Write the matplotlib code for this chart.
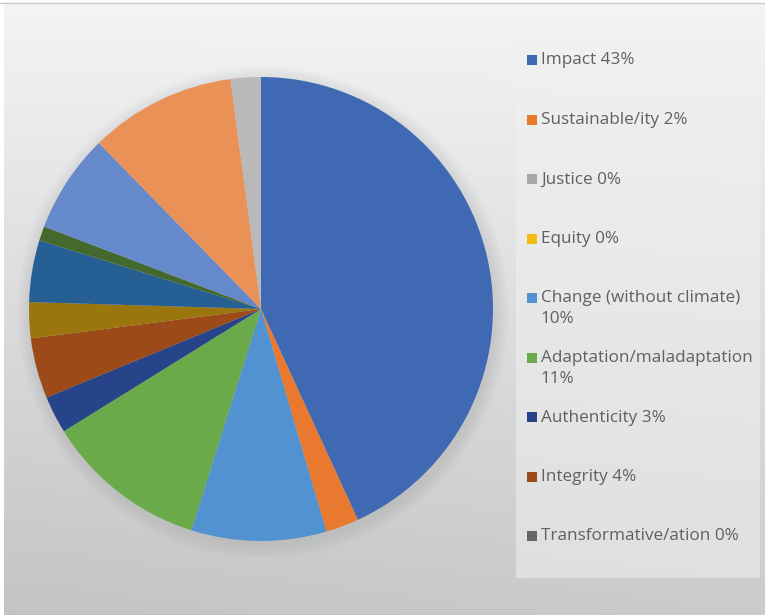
"""
Pie chart of keyword shares, Excel-style, with a side legend.
"""
import textwrap

import matplotlib
matplotlib.use("Agg")
import matplotlib.pyplot as plt
import numpy as np
from matplotlib.patches import Rectangle, Circle

# ---- data -----------------------------------------------------------------
labels = [
    "Impact", "Sustainable/ity", "Justice", "Equity", "Change (without climate)",
    "Adaptation/maladaptation", "Authenticity", "Integrity", "Transformative/ation",
    "Other 10", "Other 11", "Other 12", "Other 13", "Other 14", "Other 15",
]
values = [43.1, 2.3, 0, 0, 9.4, 11.3, 2.6, 4.2, 0, 2.5, 4.3, 1.0, 6.9, 10.2, 2.1]
legend_pct = [43, 2, 0, 0, 10, 11, 3, 4, 0]   # percentages printed in the legend
colors = [
    "#3F69B3", "#E8792F", "#A8A8A8", "#F5BC10", "#5392D0", "#6BAA4A",
    "#27448A", "#9C4A18", "#666666", "#9A760C", "#265F94", "#44692E",
    "#6589CA", "#EA9157", "#B9B9B9",
]

W, H = 765, 615
fig = plt.figure(figsize=(W / 100, H / 100), dpi=100)

# ---- background gradient ---------------------------------------------------
bg = fig.add_axes([0, 0, 1, 1])
bg.set_axis_off()
yy, xx = np.mgrid[0:1:200j, 0:1:200j]
shade = 0.955 - 0.16 * yy - 0.03 * (1 - xx) * yy
img = np.dstack([shade, shade + 0.002, shade + 0.008])
bg.imshow(np.clip(img, 0, 1), extent=(4, W, 0, H - 3), origin="upper", aspect="auto")
bg.set_xlim(0, W)
bg.set_ylim(0, H)
bg.axhline(H - 2.5, color="#c8c8c8", linewidth=1)

# legend panel
bg.add_patch(Rectangle((516, H - 578), 244, 538, facecolor="#f0f0f0",
                       edgecolor="none", alpha=0.55))

# soft shadow around the pie
cx, cy, r = 261, H - 309, 232
for k in range(10):
    bg.add_patch(Circle((cx + 2, cy - 3), r + 14 - k * 1.4, facecolor="#9a9a9a",
                        edgecolor="none", alpha=0.025))

# ---- pie -------------------------------------------------------------------
ax = fig.add_axes([(cx - r) / W, (cy - r) / H, 2 * r / W, 2 * r / H])
ax.pie(values, colors=colors, startangle=90, counterclock=False, radius=1,
       wedgeprops=dict(linewidth=0))
ax.set_xlim(-1, 1)
ax.set_ylim(-1, 1)
ax.set_aspect("equal")
ax.set_axis_off()

# ---- legend ------------------------------------------------------------------
font = "Open Sans"
for i, pct in enumerate(legend_pct):
    y = 60 + 59.5 * i
    text = "\n".join(textwrap.wrap(f"{labels[i]} {pct}%", width=25))
    bg.add_patch(Rectangle((527, H - y - 5), 10, 10, facecolor=colors[i], edgecolor="none"))
    bg.text(541, H - y + 7.5, text, fontsize=12.3, family=font, color="#606060",
            va="top", ha="left", linespacing=1.38)

fig.savefig("out.png", dpi=100)
